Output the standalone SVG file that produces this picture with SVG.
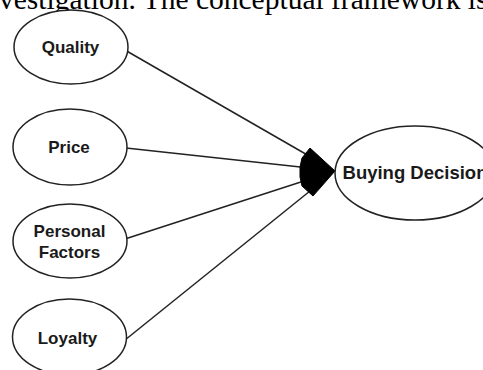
<svg xmlns="http://www.w3.org/2000/svg" width="483" height="370" viewBox="0 0 483 370">
<style>
.node ellipse{fill:#fff;stroke:#222;stroke-width:1.5}
.lbl{font-family:"Liberation Sans",Arial,sans-serif;font-weight:bold;font-size:17px;fill:#1a1a1a;text-anchor:middle}
.edge{stroke:#222;stroke-width:1.5;fill:none}
.top{font-family:"Liberation Serif","Times New Roman",serif;font-size:29.5px;fill:#000}
</style>
<rect width="483" height="370" fill="#fff"/>
<text class="top" x="-1" y="9">vestigation. The conceptual framework is</text>
<g id="connectors">
<line class="edge" x1="127.5" y1="51.5" x2="310" y2="156.5"/>
<line class="edge" x1="126" y1="148" x2="305" y2="167.5"/>
<line class="edge" x1="126.5" y1="238.5" x2="307" y2="180"/>
<line class="edge" x1="125" y1="340" x2="310" y2="191"/>
<polygon points="335,171 310,148 302,158 300,167 300,177 302,186 313,196" fill="#000" stroke="#000" stroke-width="1" stroke-linejoin="round"/>
</g>
<g id="quality" class="node">
<ellipse cx="71" cy="47" rx="57" ry="37"/>
<text class="lbl" x="70.5" y="53">Quality</text>
</g>
<g id="price" class="node">
<ellipse cx="70" cy="147" rx="57" ry="38"/>
<text class="lbl" x="69" y="153">Price</text>
</g>
<g id="personal-factors" class="node">
<ellipse cx="70" cy="241" rx="57" ry="37"/>
<text class="lbl" x="69.5" y="236.5">Personal</text>
<text class="lbl" x="69.5" y="258">Factors</text>
</g>
<g id="loyalty" class="node">
<ellipse cx="69.5" cy="337" rx="57" ry="38"/>
<text class="lbl" x="67.5" y="343.5">Loyalty</text>
</g>
<g id="buying-decision" class="node">
<ellipse cx="415" cy="173" rx="80" ry="47"/>
<text class="lbl" x="415" y="178.5" style="font-size:18.5px">Buying Decision</text>
</g>
</svg>
